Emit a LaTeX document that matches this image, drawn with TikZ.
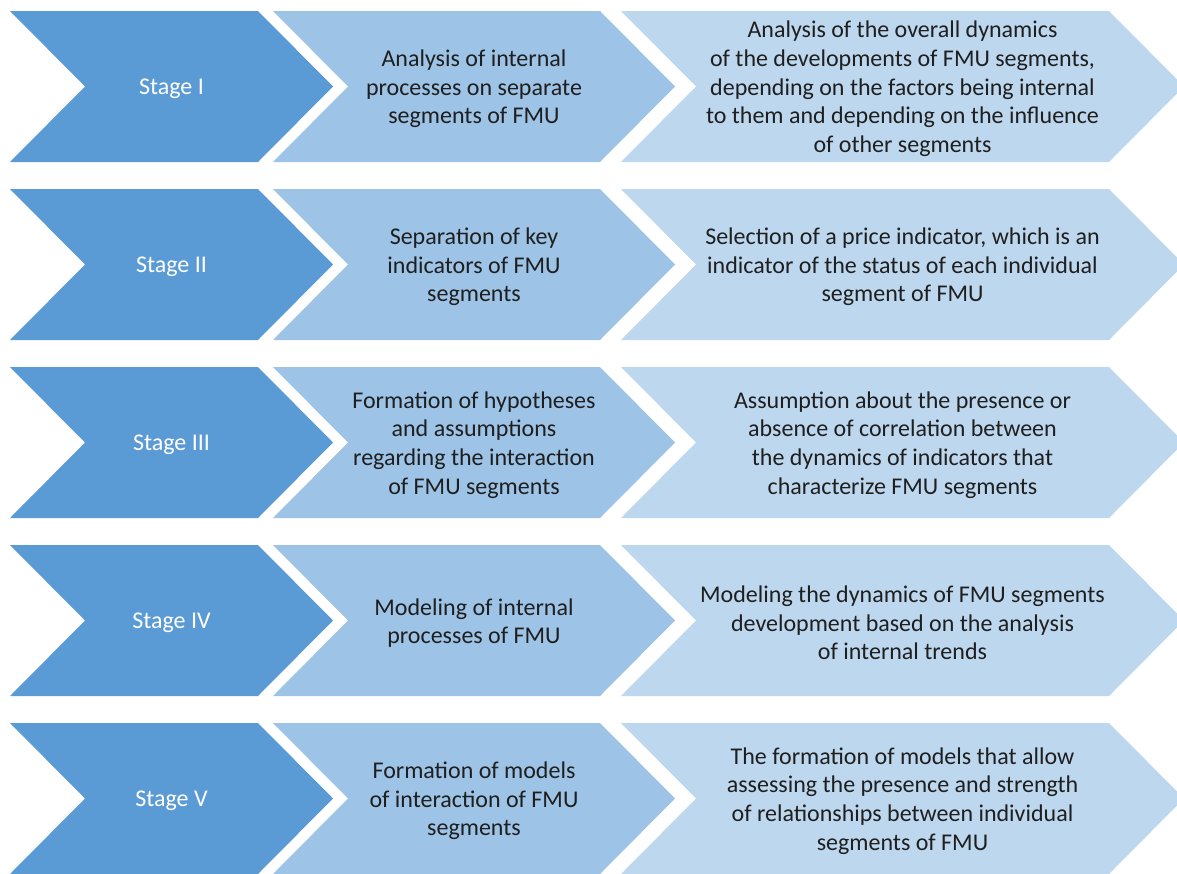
\documentclass[tikz,border=0pt]{standalone}
\usepackage{fontspec}
\setmainfont{Carlito}
\definecolor{cdark}{HTML}{5B9BD5}
\definecolor{cmid}{HTML}{9DC3E6}
\definecolor{clight}{HTML}{BDD7EE}
\definecolor{ctext}{HTML}{1F1F1F}
\tikzset{
  stagetxt/.style={text=white, font=\fontsize{24}{28.7}\selectfont, align=center},
  bodytxt/.style={text=ctext, font=\fontsize{24}{28.7}\selectfont, align=center},
}
% #1 top y, #2 name suffix, #3 stage text, #4 middle text, #5 right text
\newcommand\chevrow[5]{%
  \pgfmathsetmacro\ytop{#1}%
  \pgfmathsetmacro\ybot{#1+151}%
  \pgfmathsetmacro\ymid{#1+75.5}%
  \pgfmathsetmacro\ytxt{#1+78}%
  \fill[cdark] (10,\ytop) -- (258,\ytop) -- (333,\ymid) -- (258,\ybot) -- (10,\ybot) -- (85,\ymid) -- cycle;
  \fill[cmid] (273,\ytop) -- (600,\ytop) -- (675,\ymid) -- (600,\ybot) -- (273,\ybot) -- (348,\ymid) -- cycle;
  \fill[clight] (621,\ytop) -- (1109,\ytop) -- (1184,\ymid) -- (1109,\ybot) -- (621,\ybot) -- (696,\ymid) -- cycle;
  \node[stagetxt] (stage#2) at (171.5,\ytxt) {#3};
  \node[bodytxt] (mid#2) at (474,\ytxt) {#4};
  \node[bodytxt] (right#2) at (902.5,\ytxt) {#5};
}
\begin{document}
\begin{tikzpicture}[x=1pt,y=-1pt]
\useasboundingbox (0,0) rectangle (1177,873);
\clip (0,0) rectangle (1177,873);
\chevrow{11}{1}{Stage I}{Analysis of internal\\processes on separate\\segments of FMU}{Analysis of the overall dynamics\\of the developments of FMU segments,\\depending on the factors being internal\\to them and depending on the influence\\of other segments}
\chevrow{189}{2}{Stage II}{Separation of key\\indicators of FMU\\segments}{Selection of a price indicator, which is an\\indicator of the status of each individual\\segment of FMU}
\chevrow{367}{3}{Stage III}{Formation of hypotheses\\and assumptions\\regarding the interaction\\of FMU segments}{Assumption about the presence or\\absence of correlation between\\the dynamics of indicators that\\characterize FMU segments}
\chevrow{545}{4}{Stage IV}{Modeling of internal\\processes of FMU}{Modeling the dynamics of FMU segments\\development based on the analysis\\of internal trends}
\chevrow{723}{5}{Stage V}{Formation of models\\of interaction of FMU\\segments}{The formation of models that allow\\assessing the presence and strength\\of relationships between individual\\segments of FMU}
\end{tikzpicture}
\end{document}
